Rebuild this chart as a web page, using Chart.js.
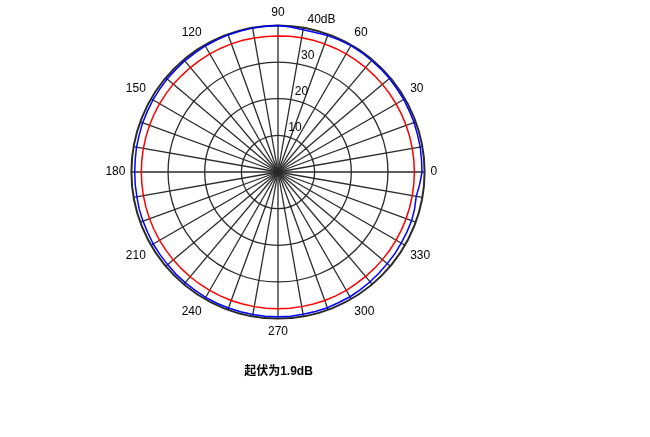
<!DOCTYPE html>
<html>
<head>
<meta charset="utf-8">
<script src="https://cdn.jsdelivr.net/npm/chart.js@4/dist/chart.umd.min.js"></script>
<style>
  html, body { margin: 0; padding: 0; background: #ffffff; }
  #wrap { position: relative; width: 650px; height: 437px; }
</style>
</head>
<body>
<div id="wrap"><canvas id="c" width="650" height="437"></canvas></div>
<script>
// Angles in degrees (counter-clockwise from the right), 5-degree steps
const angles = [0,5,10,15,20,25,30,35,40,45,50,55,60,65,70,75,80,85,
  90,95,100,105,110,115,120,125,130,135,140,145,150,155,160,165,170,175,
  180,185,190,195,200,205,210,215,220,225,230,235,240,245,250,255,260,265,
  270,275,280,285,290,295,300,305,310,315,320,325,330,335,340,345,350,355];

// Blue trace (dB)
const blueValues = [39.3,39.3,39.4,39.4,39.5,39.5,39.6,39.6,39.7,39.7,39.7,39.8,39.8,39.7,39.6,39.4,39.4,39.7,
  40.0,39.9,39.9,39.8,39.8,39.7,39.7,39.6,39.6,39.5,39.5,39.4,39.4,39.3,39.3,39.2,39.2,39.1,
  39.1,39.1,39.1,39.2,39.2,39.2,39.3,39.3,39.3,39.4,39.4,39.4,39.5,39.5,39.5,39.5,39.5,39.5,
  39.5,39.5,39.4,39.4,39.4,39.3,39.3,39.2,39.1,39.0,38.9,38.9,38.8,38.8,38.8,38.6,38.3,38.8];

// Red trace (dB)
const redValues = [37.2,37.2,37.2,37.2,37.2,37.2,37.2,37.2,37.2,37.2,37.2,37.2,37.2,37.2,37.2,37.2,37.2,37.2,
  37.1,37.1,37.1,37.2,37.2,37.2,37.2,37.2,37.2,37.2,37.3,37.3,37.3,37.3,37.3,37.3,37.3,37.3,
  37.3,37.3,37.3,37.3,37.3,37.3,37.3,37.3,37.3,37.3,37.3,37.3,37.3,37.3,37.3,37.3,37.3,37.3,
  37.3,37.3,37.3,37.3,37.3,37.3,37.3,37.2,37.2,37.2,37.2,37.2,37.2,37.2,37.2,37.2,37.2,37.2];

const radialTicks = [10, 20, 30, 40];
const radialTickLabels = ['10', '20', '30', '40dB'];
const tickLabelAngle = 80;
const titleText = '起伏为1.9dB';

// Chart.js radar goes clockwise; reorder so angles run counter-clockwise from the right.
const order = angles.map((a, i) => (angles.length - i) % angles.length);
const orderedAngles = order.map(k => angles[k]);
const orderedBlue = order.map(k => blueValues[k]);
const orderedRed = order.map(k => redValues[k]);

const FONT = "Arial, 'Liberation Sans', 'Noto Sans CJK SC', sans-serif";

const tickLabelPlugin = {
  id: 'tickLabelPlugin',
  afterDatasetsDraw(chart) {
    const scale = chart.scales.r;
    const idx = orderedAngles.indexOf(tickLabelAngle);
    const ctx = chart.ctx;
    ctx.save();
    ctx.font = '12px ' + FONT;
    ctx.fillStyle = '#000000';
    ctx.textAlign = 'left';
    ctx.textBaseline = 'alphabetic';
    radialTicks.forEach((v, i) => {
      const p = scale.getPointPositionForValue(idx, v);
      ctx.fillText(radialTickLabels[i], p.x + 4, p.y - 5);
    });
    ctx.restore();
  }
};

new Chart(document.getElementById('c'), {
  type: 'radar',
  data: {
    labels: orderedAngles,
    datasets: [
      { label: 'blue', data: orderedBlue, borderColor: '#0000ff', borderWidth: 1.5, pointRadius: 0, fill: false, tension: 0 },
      { label: 'red', data: orderedRed, borderColor: '#ff0000', borderWidth: 1.5, pointRadius: 0, fill: false, tension: 0 }
    ]
  },
  options: {
    responsive: false,
    animation: false,
    devicePixelRatio: 1,
    layout: { padding: { left: 6, right: 99, top: 5, bottom: 57.8 } },
    plugins: {
      legend: { display: false },
      tooltip: { enabled: false },
      title: {
        display: true,
        position: 'bottom',
        text: titleText,
        color: '#000000',
        font: { size: 12, weight: 'bold', family: FONT, lineHeight: 1.2 },
        padding: { top: 24.8, bottom: 0 }
      }
    },
    scales: {
      r: {
        startAngle: 90,
        min: 0,
        max: 40,
        ticks: { stepSize: 10, display: false },
        grid: {
          circular: true,
          color: '#2a2a2a',
          lineWidth: (c) => (c.tick && c.tick.value === 40 ? 2 : 1.3)
        },
        angleLines: {
          display: true,
          color: (c) => (orderedAngles[c.index] % 10 === 0 ? '#2a2a2a' : 'rgba(0,0,0,0)'),
          lineWidth: (c) => (orderedAngles[c.index] % 10 === 0 ? 1.3 : 0)
        },
        pointLabels: {
          padding: 6,
          color: '#000000',
          font: { size: 12, family: FONT },
          callback: (label) => (label % 30 === 0 ? String(label) : '')
        }
      }
    }
  },
  plugins: [tickLabelPlugin]
});
</script>
</body>
</html>
